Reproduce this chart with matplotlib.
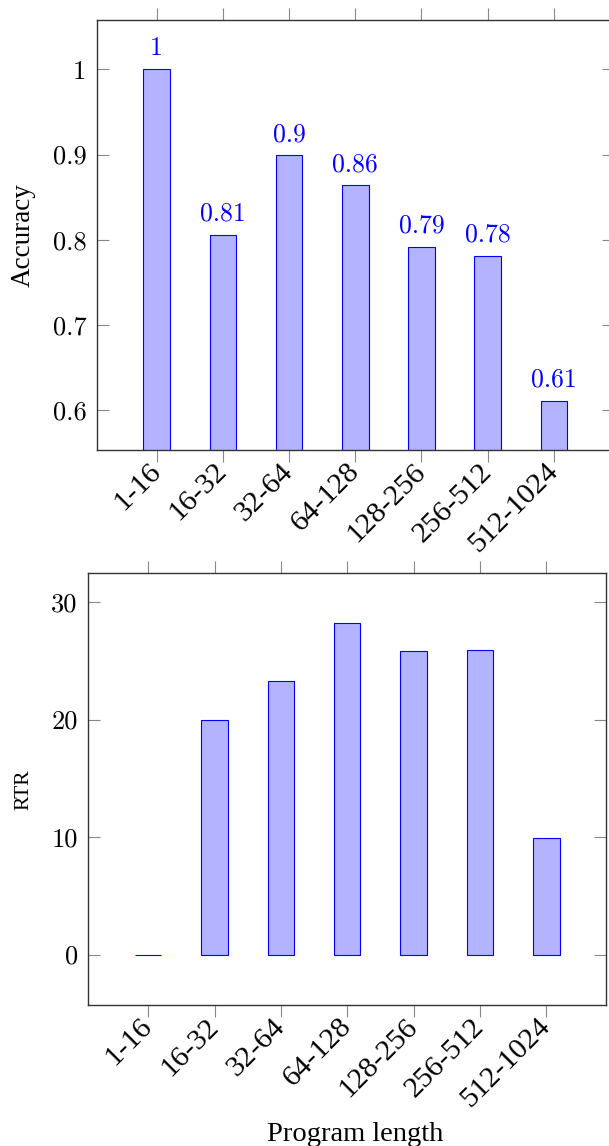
import matplotlib
matplotlib.use("Agg")
import matplotlib.pyplot as plt
import numpy as np

# data
categories = ["1-16", "16-32", "32-64", "64-128", "128-256", "256-512", "512-1024"]
accuracy = [1.0, 0.806, 0.899, 0.864, 0.792, 0.781, 0.611]
rtr = [0.0, 20.0, 23.3, 28.2, 25.8, 25.9, 9.9]
acc_ticks = [0.6, 0.7, 0.8, 0.9, 1.0]
acc_tick_labels = ["0.6", "0.7", "0.8", "0.9", "1"]
rtr_ticks = [0, 10, 20, 30]
rtr_tick_labels = ["0", "10", "20", "30"]

fill = "#b3b3ff"
edge = "#0000ff"
serif = "Liberation Serif"
num_font = "cmr10"

fig = plt.figure(figsize=(6.09, 11.46), dpi=100)
ax1 = fig.add_axes([0.1588, 0.6073, 0.8491, 0.3752])
ax2 = fig.add_axes([0.1447, 0.1228, 0.8509, 0.3768])

x = np.arange(len(categories))


def style_axes(ax):
    for s in ax.spines.values():
        s.set_color("#333333")
        s.set_linewidth(1.0)
    ax.tick_params(axis="x", which="both", direction="out", length=8.5,
                   width=0.8, color="#888888", top=True, bottom=True, pad=4)
    ax.tick_params(axis="y", which="both", direction="in", length=8.5,
                   width=0.8, color="#888888", left=True, right=True, pad=7.5)
    ax.set_xticks(x)
    # pgfplots style: anchored at the east end, rotated 45 degrees
    ax.set_xticklabels(categories, rotation=45, ha="right", va="center",
                       rotation_mode="anchor", fontsize=21.5, family=serif)
    ax.set_xlim(-0.905, 6.905)


# top: accuracy
ax1.bar(x, accuracy, width=0.4, color=fill, edgecolor=edge, linewidth=0.8)
style_axes(ax1)
ax1.set_ylim(0.553, 1.058)
ax1.set_yticks(acc_ticks)
ax1.set_yticklabels(acc_tick_labels, fontsize=19, family=num_font)
for xi, v in zip(x, accuracy):
    ax1.annotate(f"{round(v, 2):g}", (xi, v), xytext=(0, 6.5),
                 textcoords="offset points", ha="center", va="bottom",
                 color=edge, fontsize=18.5, family=num_font)
ax1.set_ylabel("Accuracy", fontsize=19.5, family=serif)
ax1.yaxis.set_label_coords(-0.118, 0.5)

# bottom: RTR
ax2.bar(x, rtr, width=0.4, color=fill, edgecolor=edge, linewidth=0.8)
style_axes(ax2)
ax2.set_ylim(-4.31, 32.44)
ax2.set_yticks(rtr_ticks)
ax2.set_yticklabels(rtr_tick_labels, fontsize=19, family=num_font)
ax2.set_ylabel("RTR", fontsize=15.5, family=serif)
ax2.yaxis.set_label_coords(-0.105, 0.5)
ax2.set_xlabel("Program length", fontsize=20.5, family=serif)
ax2.xaxis.set_label_coords(0.516, -0.27)

fig.savefig("out.png", dpi=100)
